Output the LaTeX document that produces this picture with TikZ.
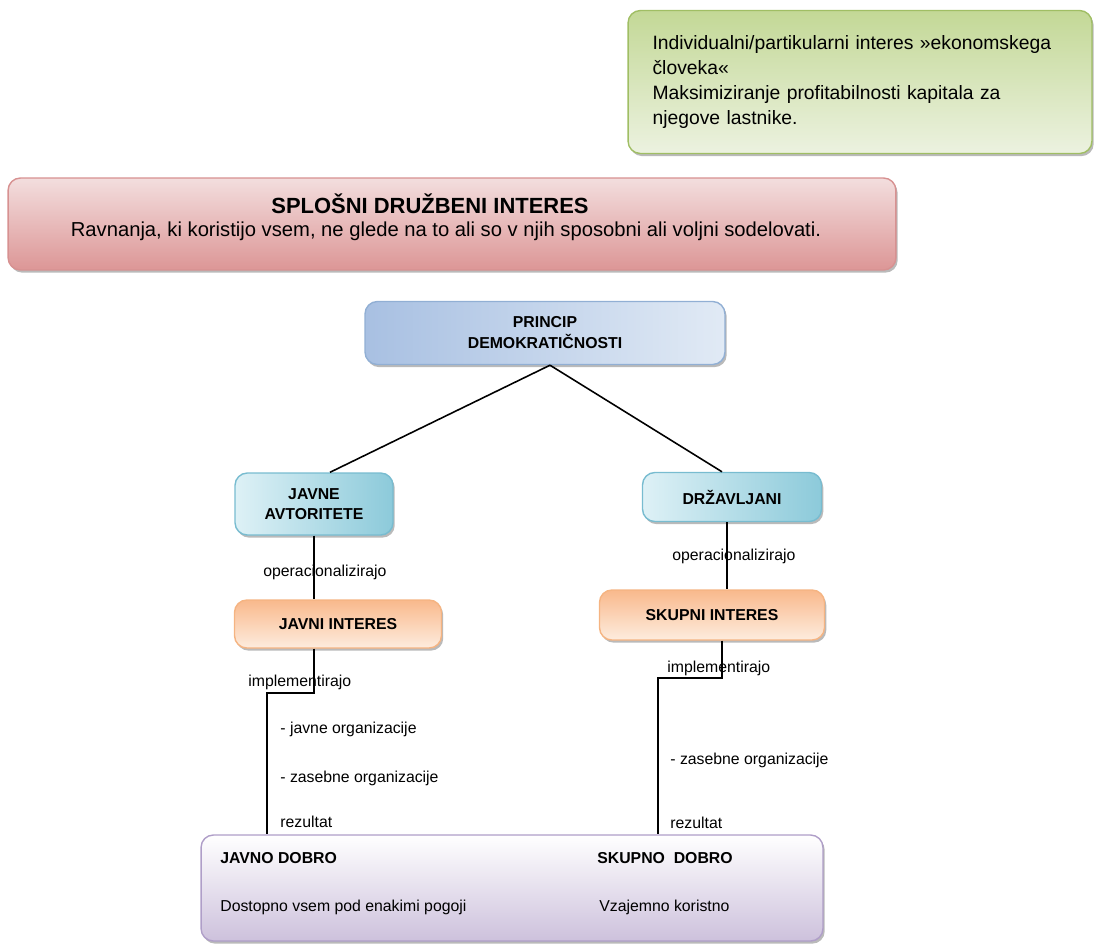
\documentclass[tikz,border=0pt]{standalone}
\usepackage{fontspec}
\setmainfont{Liberation Sans}
\usepackage{tikz}
\usetikzlibrary{shadows}
\definecolor{grline}{RGB}{160,190,100}
\definecolor{grdark}{RGB}{195,216,150}
\definecolor{grlight}{RGB}{236,242,224}
\definecolor{rdline}{RGB}{215,145,145}
\definecolor{rddark}{RGB}{220,150,150}
\definecolor{rdlight}{RGB}{243,222,222}
\definecolor{blline}{RGB}{145,175,212}
\definecolor{bldark}{RGB}{168,192,226}
\definecolor{bllight}{RGB}{225,234,245}
\definecolor{cyline}{RGB}{120,188,208}
\definecolor{cydark}{RGB}{140,202,218}
\definecolor{cylight}{RGB}{222,241,246}
\definecolor{orline}{RGB}{245,180,130}
\definecolor{ordark}{RGB}{249,185,140}
\definecolor{orlight}{RGB}{253,236,222}
\definecolor{liline}{RGB}{175,158,200}
\definecolor{lidark}{RGB}{205,193,220}

\begin{document}
\begin{tikzpicture}[x=0.02cm, y=-0.02cm,
  box/.style={rounded corners=7pt, line width=0.8pt, inner sep=2pt,
    drop shadow={shadow xshift=1pt, shadow yshift=-1.5pt, fill=gray!60, opacity=0.9}},
  greenbox/.style={box, draw=grline, top color=grdark, bottom color=grlight,
    font=\fontsize{11}{14.2}\selectfont, align=left, text width=8.3cm, minimum width=9.28cm, minimum height=2.86cm},
  redbox/.style={box, draw=rdline, top color=rdlight, bottom color=rddark, minimum width=17.76cm, minimum height=1.84cm},
  bluebox/.style={box, draw=blline, left color=bldark, right color=bllight,
    font=\fontsize{9}{12}\selectfont\bfseries, align=center},
  cyanbox/.style={box, draw=cyline, left color=cylight, right color=cydark,
    font=\fontsize{9}{11.5}\selectfont\bfseries, align=center},
  orangebox/.style={box, draw=orline, top color=ordark, bottom color=orlight,
    font=\fontsize{9}{11}\selectfont\bfseries, align=center},
  lilabox/.style={box, draw=liline, top color=white, bottom color=lidark},
  lbl/.style={font=\fontsize{9}{11}\selectfont, inner sep=0pt, anchor=west},
  conn/.style={draw=black, line width=0.9pt}
]
\useasboundingbox (0,0) rectangle (1094,943);

\node[greenbox] (ekon) at (860,82) {Individualni/partikularni interes »ekonomskega\\ človeka«\\ Maksimiziranje profitabilnosti kapitala za\\ njegove lastnike.};
\node[redbox] (splosni) at (452,224) {};
\node[inner sep=0pt, font=\fontsize{12.5}{15}\selectfont\bfseries] (sptitle) at (430,204) {SPLOŠNI DRUŽBENI INTERES};
\node[inner sep=0pt, font=\fontsize{11.5}{14}\selectfont] (sptext) at (446,231) {Ravnanja, ki koristijo vsem, ne glede na to ali so v njih sposobni ali voljni sodelovati.};
\node[bluebox, minimum width=7.2cm, minimum height=1.26cm] (princip) at (545,333) {PRINCIP\\ DEMOKRATIČNOSTI};
\node[cyanbox, minimum width=3.16cm, minimum height=1.24cm] (avtor) at (314,504) {JAVNE\\ AVTORITETE};
\node[cyanbox, minimum width=3.58cm, minimum height=0.98cm] (drzav) at (732,497) {DRŽAVLJANI};
\node[orangebox, minimum width=4.14cm, minimum height=0.96cm] (javint) at (338,624) {JAVNI INTERES};
\node[orangebox, minimum width=4.5cm, minimum height=1.0cm] (skupint) at (712,615) {SKUPNI INTERES};
\node[lilabox, minimum width=12.44cm, minimum height=2.12cm] (dobro) at (512,888) {};

\coordinate (lk) at (267,693);
\coordinate (rk) at (658,678);
\draw[conn] ([xshift=0.1cm]princip.south) -- ([xshift=0.32cm]avtor.north);
\draw[conn] ([xshift=0.1cm]princip.south) -- ([xshift=-0.2cm]drzav.north);
\draw[conn] (avtor.south) -- (avtor.south |- javint.north);
\draw[conn] ([xshift=-0.1cm]drzav.south) -- ([xshift=-0.1cm]drzav.south |- skupint.north);
\draw[conn] (avtor.south |- javint.south) |- (lk) -- (lk |- dobro.north);
\draw[conn] ([xshift=0.2cm]skupint.south) |- (rk) -- (rk |- dobro.north);

\node[lbl] (op1) at (263,572) {operacionalizirajo};
\node[lbl] (op2) at (672,556) {operacionalizirajo};
\node[lbl] (impl1) at (248,682) {implementirajo};
\node[lbl] (impl2) at (667,668) {implementirajo};
\node[lbl] (jorg) at (280,729) {- javne organizacije};
\node[lbl] (zorg1) at (280,778) {- zasebne organizacije};
\node[lbl] (rez1) at (280,822) {rezultat};
\node[lbl] (zorg2) at (670,760) {- zasebne organizacije};
\node[lbl] (rez2) at (670,823) {rezultat};
\node[lbl, font=\fontsize{9}{11}\selectfont\bfseries] (jdobro) at (220,858) {JAVNO DOBRO};
\node[lbl] (jdesc) at (220,907) {Dostopno vsem pod enakimi pogoji};
\node[lbl, font=\fontsize{9}{11}\selectfont\bfseries] (sdobro) at (597,858) {SKUPNO\ \ DOBRO};
\node[lbl] (sdesc) at (599,907) {Vzajemno koristno};

\end{tikzpicture}
\end{document}
